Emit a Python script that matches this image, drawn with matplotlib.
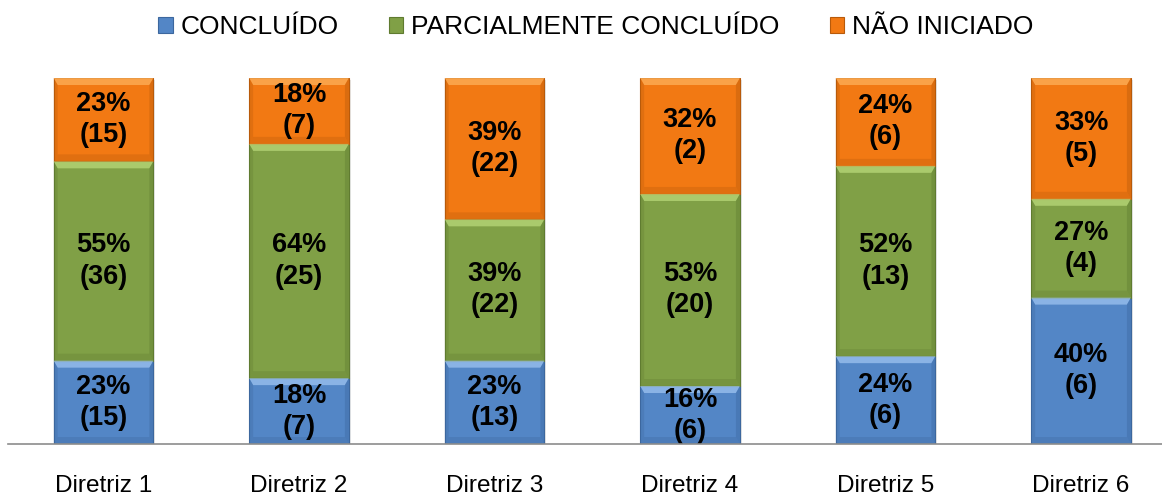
import matplotlib
matplotlib.use('Agg')
import matplotlib.pyplot as plt
from matplotlib.patches import Rectangle, Polygon
import numpy as np

plt.rcParams['font.family'] = ['Liberation Sans', 'DejaVu Sans']

categories = ['Diretriz 1', 'Diretriz 2', 'Diretriz 3', 'Diretriz 4', 'Diretriz 5', 'Diretriz 6']
series_names = ['CONCLUÍDO', 'PARCIALMENTE CONCLUÍDO', 'NÃO INICIADO']
concluido_pct = [23, 18, 23, 16, 24, 40]
concluido_n = [15, 7, 13, 6, 6, 6]
parcial_pct = [55, 64, 39, 53, 52, 27]
parcial_n = [36, 25, 22, 20, 13, 4]
nao_pct = [23, 18, 39, 32, 24, 33]
nao_n = [15, 7, 22, 2, 6, 5]

colors = ['#5386C6', '#80A046', '#F27913']
tops = ['#9DC3F0', '#B9D97A', '#FDB05A']
sides = ['#3C679E', '#5F7B30', '#B85A0A']

pcts = np.array([concluido_pct, parcial_pct, nao_pct], dtype=float)
counts = [concluido_n, parcial_n, nao_n]
fracs = pcts / pcts.sum(axis=0)

W, H = 1162, 497
fig = plt.figure(figsize=(W / 100, H / 100), dpi=100)
ax = fig.add_axes([8 / W, 53 / H, 1 - 8 / W, (444 - 78) / H])

x = np.arange(len(categories))
width = 0.51
dx = 1 / 195.5  # data units per px
dy = 1 / 366.0

bottom = np.zeros(len(categories))
for i in range(3):
    h = fracs[i]
    # soft shadow
    for xi, b, hi in zip(x, bottom, h):
        ax.add_patch(Rectangle((xi - width / 2 + 2 * dx, b - 2 * dy), width, hi,
                               facecolor='#000000', alpha=0.10, lw=0, zorder=1))
    ax.bar(x, h, width, bottom=bottom, color=colors[i], edgecolor=sides[i],
           linewidth=0.8, zorder=2)
    for xi, b, hi in zip(x, bottom, h):
        l, r, t = xi - width / 2, xi + width / 2, b + hi
        bev_x, bev_y = 4 * dx, 7 * dy
        # top highlight
        ax.add_patch(Polygon([(l, t), (r, t), (r - bev_x, t - bev_y), (l + bev_x, t - bev_y)],
                             closed=True, facecolor=tops[i], lw=0, alpha=0.75, zorder=3))
        # darker sides and bottom
        ax.add_patch(Polygon([(l, t), (l + bev_x, t - bev_y), (l + bev_x, b + bev_y), (l, b)],
                             closed=True, facecolor=sides[i], lw=0, alpha=0.3, zorder=3))
        ax.add_patch(Polygon([(r, t), (r - bev_x, t - bev_y), (r - bev_x, b + bev_y), (r, b)],
                             closed=True, facecolor=sides[i], lw=0, alpha=0.4, zorder=3))
        ax.add_patch(Polygon([(l, b), (l + bev_x, b + bev_y), (r - bev_x, b + bev_y), (r, b)],
                             closed=True, facecolor=sides[i], lw=0, alpha=0.3, zorder=3))
    for xi, b, hi, p, n in zip(x, bottom, h, pcts[i], counts[i]):
        ax.text(xi, b + hi / 2, '%d%%\n(%d)' % (p, n), ha='center', va='center',
                fontsize=19.5, fontweight='bold', color='black', zorder=5,
                linespacing=1.25)
    bottom += h

ax.set_xlim(-0.4885, 5.414)
ax.set_ylim(0, 1)
for s in ['top', 'right', 'left']:
    ax.spines[s].set_visible(False)
ax.spines['bottom'].set_color('#8C8C8C')
ax.spines['bottom'].set_linewidth(1.2)
ax.spines['bottom'].set_zorder(6)
ax.set_yticks([])
ax.set_xticks(x)
ax.set_xticklabels(categories, fontsize=17.6)
ax.tick_params(axis='x', length=0, pad=22)

handles = [Rectangle((0, 0), 1, 1, facecolor=colors[i], edgecolor=sides[i], lw=0.8)
           for i in range(3)]
fig.legend(handles, series_names, loc='center', bbox_to_anchor=(596 / W, 1 - 27 / H),
           ncol=3, frameon=False, fontsize=19, handlelength=0.55, handleheight=0.55,
           handletextpad=0.3, columnspacing=1.9)

fig.savefig('out.png', dpi=100)
